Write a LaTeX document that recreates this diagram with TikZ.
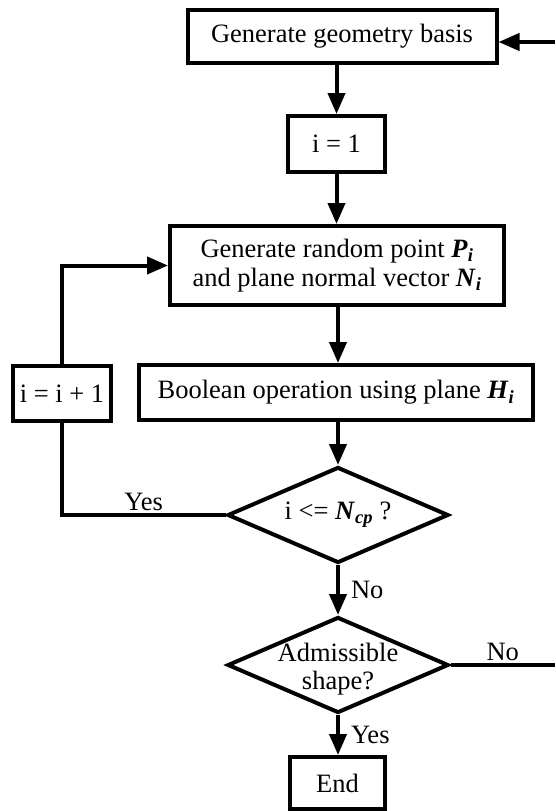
\documentclass[tikz,border=0pt]{standalone}
\usepackage{fontspec}
\setmainfont{Liberation Serif}
\usetikzlibrary{shapes.geometric,arrows.meta}

% bold italic symbol with bold italic index
\newcommand{\bvec}[2]{\textbf{\textit{#1}}\textsubscript{\textbf{\textit{#2}}}}

\begin{document}
\begin{tikzpicture}[x=1pt,y=-1pt,>={Triangle[length=21pt,width=17pt]},
  line width=4pt,
  font=\fontsize{26.5}{29.5}\selectfont,
  procbox/.style={draw,rectangle,inner sep=0pt,align=center},
  decbox/.style={draw,diamond,inner sep=0pt,minimum width=221pt,minimum height=96pt},
  flow/.style={->},
  tag/.style={inner sep=2pt},
  sidetag/.style={inner sep=0pt,anchor=west,xshift=11pt}]

\useasboundingbox (0,0) rectangle (555,811);

%------------------------
% Boxes of the main column
%------------------------
\node[procbox,minimum width=309pt,minimum height=53pt] (gen) at (342,36.5) {Generate geometry basis};
\node[procbox,minimum width=97pt,minimum height=56pt] (init) at (336.5,144) {i = 1};
\node[procbox,minimum width=334pt,minimum height=79pt] (rnd) at (337,265.5)
  {Generate random point \bvec{P}{i}\\and plane normal vector \bvec{N}{i}};
\node[procbox,minimum width=394pt,minimum height=55pt] (bool) at (336,392.5)
  {Boolean operation using plane \bvec{H}{i}};
\node[procbox,minimum width=98pt,minimum height=55pt] (inc) at (62,393.5) {i = i + 1};

%------------------------
% Decisions and end
%------------------------
\node[decbox,label={center:i <= \bvec{N}{cp} ?}] (chk) at (338,515) {};
\node[decbox,label={[align=center,yshift=-4pt,font=\fontsize{26.5}{28}\selectfont]center:Admissible\\shape?}] (adm) at (338,665) {};
\node[procbox,minimum width=95pt,minimum height=52pt] (fin) at (337.5,783) {End};

% free ends on the right border
\coordinate (rin) at (555,42);
\coordinate (rout) at (555,665);

%------------------------
% Connectors
%------------------------
\draw[flow] (gen.south -| init.north) -- (init.north);
\draw[flow] (init.south) -- (rnd.north -| init.south);
\draw[flow] (rnd.south -| chk.north) -- (bool.north -| chk.north);
\draw[flow] (bool.south -| chk.north) -- (chk.north);
\draw[flow] (chk.south) -- node[sidetag] {No} (adm.north);
\draw[flow] (adm.south) -- node[sidetag] {Yes} (fin.north -| adm.south);

% loop back
\draw (chk.west) -- node[tag,above] {Yes} (chk.west -| inc.south) -- (inc.south);
\draw[flow] (inc.north) |- (rnd.west);

% reject and restart
\draw (adm.east) -- node[tag,above] {No} (rout);
\draw[flow] (rin) -- (rin -| gen.east);

\end{tikzpicture}
\end{document}
